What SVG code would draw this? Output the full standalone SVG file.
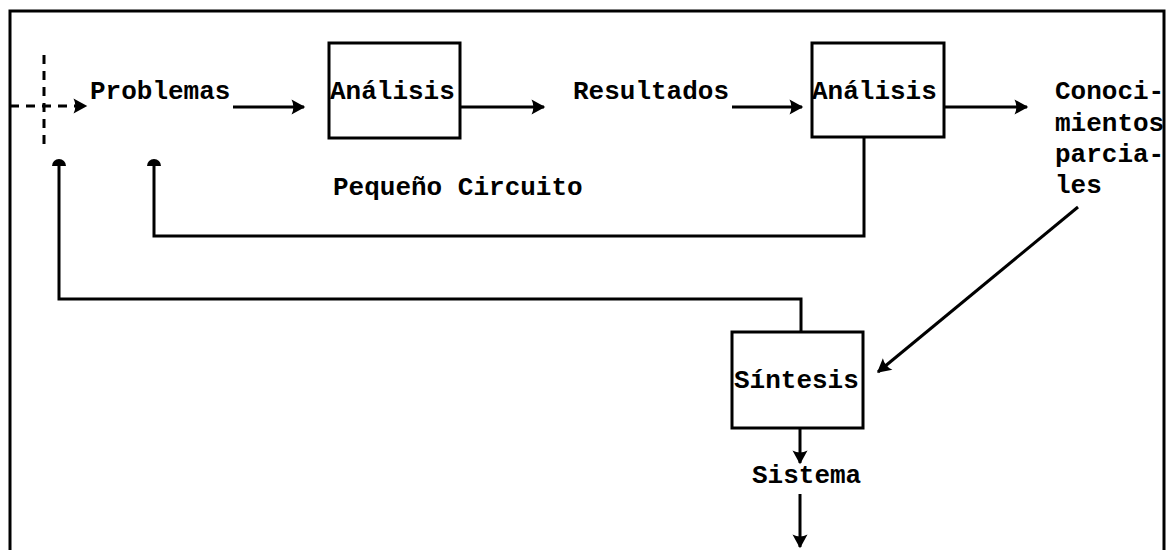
<svg xmlns="http://www.w3.org/2000/svg" width="1170" height="550" viewBox="0 0 1170 550">
<style>
.ln{fill:none;stroke:#000;stroke-width:3;stroke-linejoin:miter}
.dash{fill:none;stroke:#000;stroke-width:3;stroke-dasharray:9 7}
.box{fill:#fff;stroke:#000;stroke-width:3}
.t{font-family:"Liberation Mono","DejaVu Sans Mono",monospace;font-weight:bold;font-size:26px;fill:#000}
</style>
<defs>
<marker id="arr" markerUnits="userSpaceOnUse" markerWidth="20" markerHeight="20" viewBox="-12 -8 16 16" refX="0" refY="0" orient="auto">
<path d="M-10,-6 L1,0 L-10,6 Q-7,0 -10,-6 Z" fill="#000"/>
</marker>
<marker id="cap" markerUnits="userSpaceOnUse" markerWidth="20" markerHeight="20" viewBox="-10 -10 20 20" refX="0" refY="0" orient="auto">
<path d="M-5,-7 A7,7 0 0 1 -5,7 Z" fill="#000"/>
</marker>
</defs>
<rect width="1170" height="550" fill="#fff"/>
<g id="frame">
<path class="ln" d="M10,550 V11 H1164 V550"/>
</g>
<g id="connectors">
<path class="dash" d="M10,106 H86" marker-end="url(#arr)"/>
<path class="dash" d="M44,55 V145"/>
<path class="ln" d="M233,107 H304" marker-end="url(#arr)"/>
<path class="ln" d="M460,107 H544" marker-end="url(#arr)"/>
<path class="ln" d="M732,107 H802" marker-end="url(#arr)"/>
<path class="ln" d="M944,107 H1027" marker-end="url(#arr)"/>
<path class="ln" d="M864,137 V236 H154 V161" marker-end="url(#cap)"/>
<path class="ln" d="M801,332 V299 H59 V161" marker-end="url(#cap)"/>
<path class="ln" d="M1078,207 L878,372" marker-end="url(#arr)"/>
<path class="ln" d="M800,428 V463" marker-end="url(#arr)"/>
<path class="ln" d="M800,494 V547" marker-end="url(#arr)"/>
</g>
<g id="problemas"><text class="t" x="90" y="99">Problemas</text></g>
<g id="analisis1">
<rect class="box" x="329" y="43" width="131" height="95"/>
<text class="t" x="330" y="99">Análisis</text>
</g>
<g id="resultados"><text class="t" x="573" y="99">Resultados</text></g>
<g id="analisis2">
<rect class="box" x="812" y="43" width="132" height="94"/>
<text class="t" x="812" y="99">Análisis</text>
</g>
<g id="conocimientos">
<text class="t" x="1055" y="99">Conoci-</text>
<text class="t" x="1055" y="131">mientos</text>
<text class="t" x="1055" y="162">parcia-</text>
<text class="t" x="1055" y="193">les</text>
</g>
<g id="pequeno"><text class="t" x="333" y="195">Pequeño Circuito</text></g>
<g id="sintesis">
<rect class="box" x="732" y="332" width="131" height="96"/>
<text class="t" x="734" y="388">Síntesis</text>
</g>
<g id="sistema"><text class="t" x="752" y="483">Sistema</text></g>
</svg>
